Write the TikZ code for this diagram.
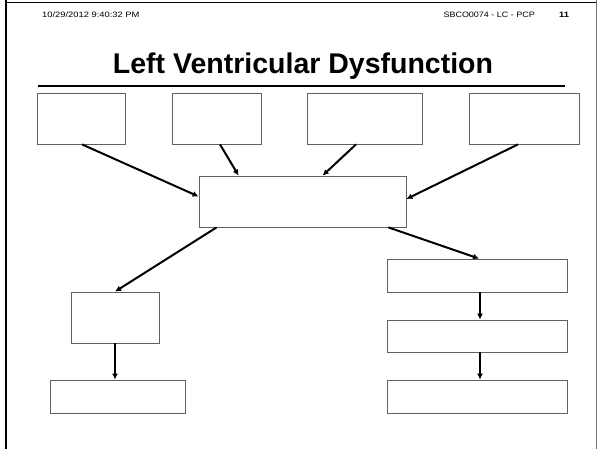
\documentclass[tikz,border=0pt]{standalone}
\usepackage{fontspec}
\setmainfont{Liberation Sans}
\usetikzlibrary{arrows.meta,calc}

\tikzset{
  box/.style={draw=black!62, line width=0.8pt, fill=white, rectangle, inner sep=0pt},
  link/.style={draw=black, line width=2pt, -{Latex[length=6pt,width=6pt]}},
  header/.style={inner sep=0pt, font=\fontsize{7.8}{9}\selectfont},
}

\begin{document}
\begin{tikzpicture}[x=1pt, y=-1pt]
  \useasboundingbox (0,0) rectangle (597,449);

  % page frame
  \coordinate (frameTL) at (5,2.5);
  \coordinate (frameTR) at (596,2.5);
  \coordinate (frameBL) at (6,449);
  \coordinate (frameBR) at (596,449);
  \draw[black, line width=1.4pt] (frameTL) -- (frameTR);
  \draw[black, line width=2.6pt] (6,0) -- (frameBL);
  \draw[black!55, line width=0.9pt] (596,0) -- (frameBR);

  % running header
  \node[header, anchor=base west] (date) at (42,18)
    {\scalebox{1.2}[1]{10/29/2012 9:40:32 PM}};
  \node[header, anchor=base east] (code) at (535,18)
    {\scalebox{1.15}[1]{SBCO0074 - LC - PCP}};
  \node[header, anchor=base west] (page) at (559,18)
    {\scalebox{1.2}[1]{\bfseries 11}};

  % title and rule
  \node[inner sep=0pt, anchor=base, font=\fontsize{28.5}{32}\bfseries] (title) at (303,74)
    {Left Ventricular Dysfunction};
  \coordinate (ruleL) at (38,86);
  \coordinate (ruleR) at (565,86);
  \draw[black, line width=2pt] (ruleL) -- (ruleR);

  % top row of causes
  \node[box, minimum width=88pt,  minimum height=51pt] (b1) at (81,118.5) {};
  \node[box, minimum width=89pt,  minimum height=51pt] (b2) at (216.5,118.5) {};
  \node[box, minimum width=115pt, minimum height=51pt] (b3) at (364.5,118.5) {};
  \node[box, minimum width=110pt, minimum height=51pt] (b4) at (524,118.5) {};

  % central box
  \node[box, minimum width=207pt, minimum height=51pt] (c) at (302.5,201.5) {};

  % left branch
  \node[box, minimum width=88pt,  minimum height=51pt] (l1) at (115,317.5) {};
  \node[box, minimum width=135pt, minimum height=33pt] (l2) at (117.5,396.5) {};

  % right branch
  \node[box, minimum width=180pt, minimum height=33pt] (r1) at (477,275.5) {};
  \node[box, minimum width=180pt, minimum height=32pt] (r2) at (477,336) {};
  \node[box, minimum width=180pt, minimum height=33pt] (r3) at (477,396.5) {};

  % connectors into the central box
  \draw[link] ([xshift=1pt]b1.south) -- ([yshift=5pt]c.west);
  \draw[link] ([xshift=3.5pt]b2.south) -- ([xshift=40pt]c.north west);
  \draw[link] ([xshift=-8.5pt]b3.south) -- ([xshift=124pt]c.north west);
  \draw[link] ([xshift=-6pt]b4.south) -- ([yshift=2.5pt]c.east);

  % connectors out of the central box
  \draw[link] ([xshift=18pt]c.south west) -- (l1.north);
  \draw[link] ([xshift=-18pt]c.south east) -- ([xshift=2pt]r1.north);

  % downward chains
  \draw[link] (l1.south) -- (l1.south |- l2.north);
  \draw[link] ([xshift=3pt]r1.south) -- ([xshift=3pt]r1.south |- r2.north);
  \draw[link] ([xshift=3pt]r2.south) -- ([xshift=3pt]r2.south |- r3.north);
\end{tikzpicture}
\end{document}
